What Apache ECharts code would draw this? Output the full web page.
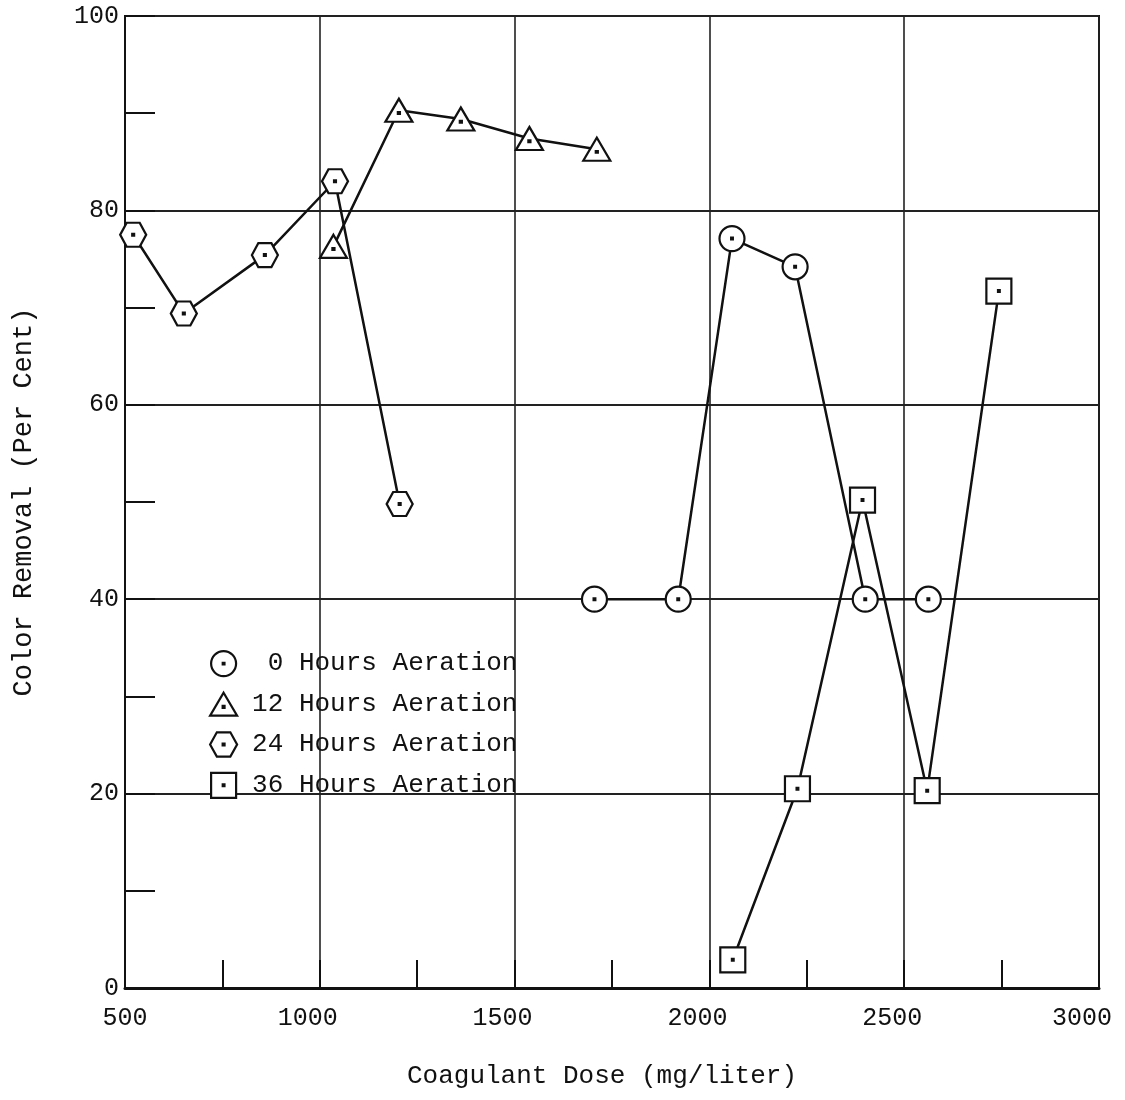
<!DOCTYPE html>
<html>
<head>
<meta charset="utf-8">
<title>Color Removal vs Coagulant Dose</title>
<script src="https://cdn.jsdelivr.net/npm/echarts@6/dist/echarts.min.js"></script>
<style>
  html, body { margin: 0; padding: 0; background: #fff; }
  #chart { width: 1125px; height: 1100px; }
</style>
</head>
<body>
<div id="chart"></div>
<script>
// doses (mg/liter) and colour removal (per cent)
var dose0h  = [1705, 1920, 2058, 2220, 2400, 2562]
var rem0h   = [40, 40, 77.1, 74.2, 40, 40]
var dose12h = [1035, 1203, 1362, 1538, 1711]
var rem12h  = [76.3, 90.3, 89.4, 87.4, 86.3]
var dose24h = [521, 651, 859, 1039, 1205]
var rem24h  = [77.5, 69.4, 75.4, 83, 49.8]
var dose36h = [2060, 2226, 2393, 2559, 2743]
var rem36h  = [2.9, 20.5, 50.2, 20.3, 71.7]

var xTicks = [500, 1000, 1500, 2000, 2500, 3000]
var yTicks = [0, 20, 40, 60, 80, 100]
var names = [' 0 Hours Aeration', '12 Hours Aeration', '24 Hours Aeration', '36 Hours Aeration']

// hollow marker shapes, each with a tiny inner square that the stroke turns into a dot
var dot = function(cx, cy){
  return ' M' + (cx-0.7) + ',' + (cy-0.7) + ' L' + (cx+0.7) + ',' + (cy-0.7) +
         ' L' + (cx+0.7) + ',' + (cy+0.7) + ' L' + (cx-0.7) + ',' + (cy+0.7) + ' Z'
}
var circlePath = 'path://M0,10 A10,10 0 1,0 20,10 A10,10 0 1,0 0,10 Z' + dot(10, 10)
var trianglePath = 'path://M10,0 L20,17 L0,17 Z' + dot(10, 10.5)
var hexPath = 'path://M0,9 L5,0 L15,0 L20,9 L15,18 L5,18 Z' + dot(10, 9)
var squarePath = 'path://M0,0 L20,0 L20,20 L0,20 Z' + dot(10, 10)

function pairs(xs, ys){
  return xs.map(function(x, i){ return [x, ys[i]] })
}

var font = 'Liberation Mono'
var chart = echarts.init(document.getElementById('chart'))

function lineSeries(name, xs, ys, symbol, size){
  return {
    name: name,
    type: 'line',
    xAxisIndex: 0,
    yAxisIndex: 0,
    data: pairs(xs, ys),
    symbol: symbol,
    symbolSize: size,
    showAllSymbol: true,
    lineStyle: { color: '#111', width: 2.5 },
    itemStyle: { color: '#fff', borderColor: '#111', borderWidth: 2.2 },
    z: 5
  }
}

chart.setOption({
  backgroundColor: '#fff',
  animation: false,
  grid: {
    left: 125, right: 26, top: 16, bottom: 112,
    containLabel: false,
    outerBoundsMode: 'none',
    show: true, borderColor: '#111', borderWidth: 2
  },
  legend: {
    orient: 'vertical',
    left: 204,
    top: 645,
    itemWidth: 27,
    itemHeight: 25,
    itemGap: 14,
    selectedMode: false,
    itemStyle: { color: '#fff', borderColor: '#111', borderWidth: 2.2 },
    textStyle: { fontFamily: font, fontSize: 26, color: '#111', padding: [0, 0, 0, 10] },
    data: [
      { name: names[0], icon: circlePath },
      { name: names[1], icon: trianglePath },
      { name: names[2], icon: hexPath },
      { name: names[3], icon: squarePath }
    ]
  },
  xAxis: [
    {
      type: 'value',
      min: xTicks[0], max: xTicks[xTicks.length - 1], interval: 500,
      name: 'Coagulant Dose (mg/liter)',
      nameLocation: 'middle',
      nameGap: 75,
      nameTextStyle: { fontFamily: font, fontSize: 26, color: '#111', padding: [0, 20, 0, 0] },
      axisLine: { show: true, lineStyle: { color: '#111', width: 3 } },
      axisTick: { show: false },
      axisLabel: {
        fontFamily: font, fontSize: 25, color: '#111', margin: 18,
        formatter: function(v){
          if (v === xTicks[0]) return '{a|' + v + '}'
          if (v === xTicks[xTicks.length - 1]) return '{c|' + v + '}'
          return '{b|' + v + '}'
        },
        rich: {
          a: { fontFamily: font, fontSize: 25, color: '#111' },
          b: { fontFamily: font, fontSize: 25, color: '#111', padding: [0, 24, 0, 0] },
          c: { fontFamily: font, fontSize: 25, color: '#111', padding: [0, 34, 0, 0] }
        }
      },
      splitLine: { show: true, lineStyle: { color: '#222', width: 1.6 } }
    },
    {
      // short inner ticks every 250
      type: 'value', position: 'bottom',
      min: xTicks[0], max: xTicks[xTicks.length - 1], interval: 250,
      axisLine: { show: false },
      axisTick: { show: true, inside: true, length: 28, lineStyle: { color: '#111', width: 2 } },
      axisLabel: { show: false },
      splitLine: { show: false }
    }
  ],
  yAxis: [
    {
      type: 'value',
      min: yTicks[0], max: yTicks[yTicks.length - 1], interval: 20,
      name: 'Color Removal (Per Cent)',
      nameLocation: 'middle',
      nameGap: 88,
      nameTextStyle: { fontFamily: font, fontSize: 27, color: '#111' },
      axisLine: { show: true, lineStyle: { color: '#111', width: 1.6 } },
      axisTick: { show: false },
      axisLabel: {
        fontFamily: font, fontSize: 25, color: '#111', margin: 6,
        formatter: function(v){ return String(v) }
      },
      splitLine: { show: true, lineStyle: { color: '#222', width: 2 } }
    },
    {
      // short inner ticks every 10
      type: 'value', position: 'left',
      min: yTicks[0], max: yTicks[yTicks.length - 1], interval: 10,
      axisLine: { show: false },
      axisTick: { show: true, inside: true, length: 30, lineStyle: { color: '#111', width: 2 } },
      axisLabel: { show: false },
      splitLine: { show: false }
    }
  ],
  series: [
    lineSeries(names[0], dose0h, rem0h, circlePath, [25, 25]),
    lineSeries(names[1], dose12h, rem12h, trianglePath, [27, 23]),
    lineSeries(names[2], dose24h, rem24h, hexPath, [26, 24]),
    lineSeries(names[3], dose36h, rem36h, squarePath, [25, 25])
  ]
})
</script>
</body>
</html>
